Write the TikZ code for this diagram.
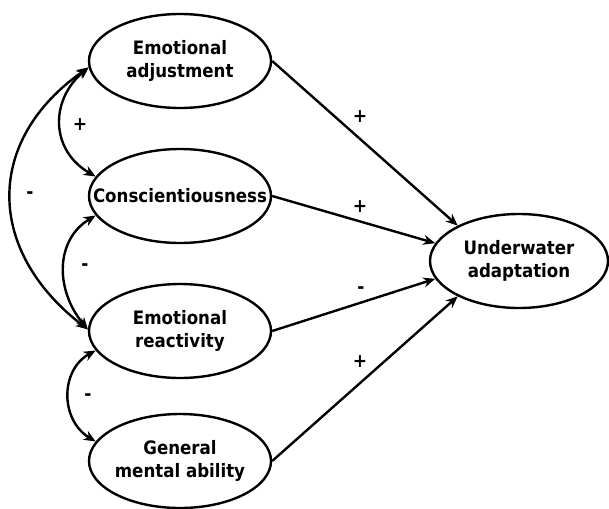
\documentclass[tikz,border=0pt]{standalone}
\usepackage{fontspec}
\setmainfont{DejaVu Sans Condensed}[BoldFont={DejaVu Sans Condensed Bold}]
\usetikzlibrary{shapes.geometric,arrows.meta}
\tikzset{
  var/.style={ellipse,draw,line width=2.4pt,minimum width=182pt,minimum height=94pt,inner sep=0pt},
  txt/.style={align=center,inner sep=0pt,font=\fontsize{18.5}{23}\selectfont\bfseries},
  conn/.style={line width=2.4pt,-{Stealth[length=12pt,width=10pt]}},
  dconn/.style={line width=2.4pt,{Stealth[length=12pt,width=10pt]}-{Stealth[length=12pt,width=10pt]}},
  sign/.style={font=\fontsize{19}{20}\selectfont\bfseries,inner sep=0pt}
}
\begin{document}
\begin{tikzpicture}[x=1pt,y=-1pt]
\useasboundingbox (0,0) rectangle (609,508);
\node[var] (ea) at (180,61) {};
\node[var] (co) at (180,196) {};
\node[var] (er) at (180,331) {};
\node[var] (gm) at (180,461) {};
\node[var,minimum width=178pt] (ua) at (519,261) {};
\node[txt] (eat) at (ea) {Emotional\\adjustment};
\node[txt] (cot) at (co) {Conscientiousness};
\node[txt] (ert) at (er) {Emotional\\reactivity};
\node[txt] (gmt) at (gm) {General\\mental ability};
\node[txt] (uat) at (ua) {Underwater\\adaptation};

\draw[conn] (ea.east) -- (ua.150);
\draw[conn] (co.east) -- (ua.168);
\draw[conn] (er.east) -- (ua.192);
\draw[conn] (gm.east) -- (ua.210);

\draw[dconn] (ea.184) .. controls (-15,140) and (-15,250) .. (er.179);
\draw[dconn] (ea.184) .. controls (50,100) and (50,150) .. (co.167);
\draw[dconn] (co.193) .. controls (55,240) and (55,290) .. (er.179);
\draw[dconn] (er.193) .. controls (60,370) and (60,420) .. (gm.167);

\node[sign] (s1) at (360,117) {+};
\node[sign] (s2) at (360,207) {+};
\node[sign] (s3) at (361,290) {-};
\node[sign] (s4) at (360,362) {+};
\node[sign] (s5) at (80,125) {+};
\node[sign] (s6) at (30,195) {-};
\node[sign] (s7) at (85,267) {-};
\node[sign] (s8) at (88,397) {-};
\end{tikzpicture}
\end{document}
